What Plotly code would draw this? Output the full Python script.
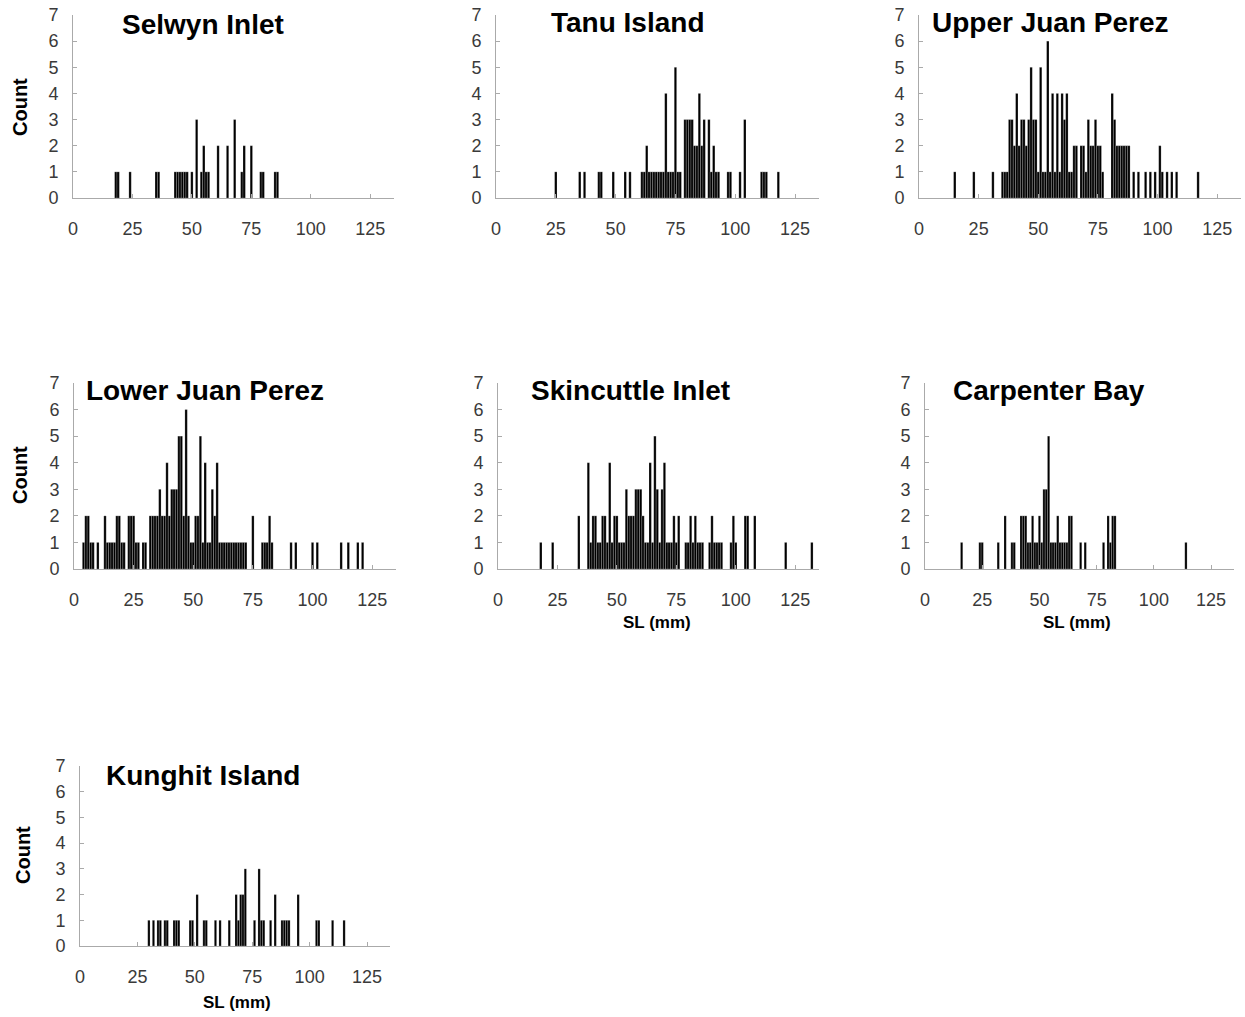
import plotly.graph_objects as go

# ---- data: SL bin (mm) and count per site ----
selwyn_bins = [18, 19, 24, 35, 36, 43, 44, 45, 46, 47, 48, 50, 52, 54, 55, 56, 57, 61, 65, 68, 71, 72, 75, 79, 80, 85, 86]
selwyn_counts = [1, 1, 1, 1, 1, 1, 1, 1, 1, 1, 1, 1, 3, 1, 2, 1, 1, 2, 2, 3, 1, 2, 2, 1, 1, 1, 1]

tanu_bins = [25, 35, 37, 43, 44, 49, 54, 56, 61, 62, 63, 64, 65, 66, 67, 68, 69, 70, 71, 72, 73, 74, 75, 76, 77,
             79, 80, 81, 82, 83, 84, 85, 86, 87, 89, 90, 91, 92, 93, 97, 98, 102, 104, 111, 112, 113, 118]
tanu_counts = [1, 1, 1, 1, 1, 1, 1, 1, 1, 1, 2, 1, 1, 1, 1, 1, 1, 1, 4, 1, 1, 1, 5, 1, 1,
               3, 3, 3, 3, 2, 2, 4, 2, 3, 3, 1, 2, 1, 1, 1, 1, 1, 3, 1, 1, 1, 1]

ujp_bins = [15, 23, 31, 35, 36, 37, 38, 39, 40, 41, 42, 43, 44, 45, 46, 47, 48, 49, 50, 51, 52, 53, 54, 55, 56, 57,
            58, 59, 60, 61, 62, 63, 64, 65, 66, 68, 69, 70, 71, 72, 73, 74, 75, 76, 77, 81, 82, 83, 84, 85, 86,
            87, 88, 90, 92, 95, 97, 99, 101, 102, 104, 106, 108, 117]
ujp_counts = [1, 1, 1, 1, 1, 1, 3, 3, 2, 4, 2, 3, 3, 2, 3, 5, 3, 3, 1, 5, 1, 1, 6, 1, 4, 1,
              4, 1, 4, 3, 4, 1, 1, 2, 2, 2, 2, 1, 3, 2, 2, 3, 2, 2, 1, 4, 3, 2, 2, 2, 2,
              2, 2, 1, 1, 1, 1, 1, 2, 1, 1, 1, 1, 1]

ljp_bins = [4, 5, 6, 7, 8, 10, 13, 14, 15, 16, 17, 18, 19, 20, 21, 23, 24, 25, 26, 27, 29, 30, 32, 33, 34, 35,
            36, 37, 38, 39, 40, 41, 42, 43, 44, 45, 46, 47, 48, 49, 50, 51, 52, 53, 54, 55, 56, 57, 58, 59, 60,
            61, 62, 63, 64, 65, 66, 67, 68, 69, 70, 71, 72, 75, 79, 80, 81, 82, 83, 91, 93, 100, 102, 112, 115,
            119, 121]
ljp_counts = [1, 2, 2, 1, 1, 1, 2, 1, 1, 1, 1, 2, 2, 1, 1, 2, 2, 2, 1, 1, 1, 1, 2, 2, 2, 2,
              3, 2, 2, 4, 2, 3, 3, 3, 5, 5, 2, 6, 2, 1, 1, 2, 2, 5, 1, 4, 1, 1, 3, 2, 4,
              1, 1, 1, 1, 1, 1, 1, 1, 1, 1, 1, 1, 2, 1, 1, 1, 2, 1, 1, 1, 1, 1, 1, 1,
              1, 1]

skin_bins = [18, 23, 34, 38, 39, 40, 41, 42, 43, 44, 45, 46, 47, 48, 49, 50, 51, 52, 53, 54, 55, 56, 57, 58, 59,
             60, 61, 62, 63, 64, 65, 66, 67, 68, 69, 70, 71, 72, 73, 74, 75, 76, 79, 80, 81, 82, 83, 84, 85, 86,
             89, 90, 91, 92, 93, 94, 98, 99, 100, 104, 105, 108, 121, 132]
skin_counts = [1, 1, 2, 4, 1, 2, 2, 1, 1, 2, 2, 1, 4, 1, 2, 2, 1, 1, 1, 3, 2, 2, 2, 3, 3,
               3, 2, 1, 1, 4, 1, 5, 3, 1, 3, 4, 1, 1, 1, 2, 1, 2, 1, 1, 2, 1, 2, 1, 1, 1,
               1, 2, 1, 1, 1, 1, 1, 2, 1, 2, 2, 2, 1, 1]

carp_bins = [16, 24, 25, 32, 35, 38, 39, 42, 43, 44, 45, 46, 47, 48, 49, 50, 51, 52, 53, 54, 55, 56, 57, 58, 59,
             60, 61, 62, 63, 64, 68, 70, 78, 80, 81, 82, 83, 114]
carp_counts = [1, 1, 1, 1, 2, 1, 1, 2, 2, 2, 1, 1, 2, 1, 1, 2, 1, 3, 3, 5, 1, 1, 1, 2, 1,
               1, 1, 1, 2, 2, 1, 1, 1, 2, 1, 2, 2, 1]

kung_bins = [30, 32, 34, 35, 37, 38, 41, 42, 43, 48, 49, 51, 54, 55, 59, 61, 65, 68, 69, 70, 71, 72, 76, 78, 79,
             80, 83, 85, 88, 89, 90, 91, 95, 103, 104, 110, 115]
kung_counts = [1, 1, 1, 1, 1, 1, 1, 1, 1, 1, 1, 2, 1, 1, 1, 1, 1, 2, 1, 2, 2, 3, 1, 3, 1,
               1, 1, 2, 1, 1, 1, 1, 2, 1, 1, 1, 1]

site_names = ["Selwyn Inlet", "Tanu Island", "Upper Juan Perez", "Lower Juan Perez",
              "Skincuttle Inlet", "Carpenter Bay", "Kunghit Island"]
x_ticks = [0, 25, 50, 75, 100, 125]
y_ticks = [0, 1, 2, 3, 4, 5, 6, 7]

series = [(selwyn_bins, selwyn_counts), (tanu_bins, tanu_counts), (ujp_bins, ujp_counts),
          (ljp_bins, ljp_counts), (skin_bins, skin_counts), (carp_bins, carp_counts),
          (kung_bins, kung_counts)]

# ---- layout geometry (pixels) ----
W, H = 1245, 1017
# (x_left_px, x_right_px, y_top_px, y_bottom_px)
boxes = [
    (73, 394, 15, 198),
    (496, 819, 15, 198),
    (919, 1241, 15, 198),
    (74, 396, 383, 569),
    (498, 819, 383, 569),
    (925, 1234, 383, 569),
    (80, 390, 766, 946),
]
title_pos = [(203, 25), (628, 22), (1050, 22), (205, 390), (630, 390), (1049, 390), (203, 775)]
count_pos = [(20, 107), (20, 475), (23, 855)]
sl_pos = [(657, 622), (1077, 622), (237, 1002)]

FONT = "Liberation Sans, Arial, sans-serif"
fig = go.Figure()
layout = dict(width=W, height=H, margin=dict(l=0, r=0, t=0, b=0, autoexpand=False),
              paper_bgcolor="white", plot_bgcolor="white", showlegend=False,
              bargap=0, font=dict(family=FONT, color="#333333"))
annotations = []

for i, ((bins, counts), box) in enumerate(zip(series, boxes)):
    n = "" if i == 0 else str(i + 1)
    xl, xr, yt, yb = box
    fig.add_trace(go.Bar(x=bins, y=counts, width=1, xaxis="x" + n, yaxis="y" + n,
                         marker=dict(color="black", line=dict(color="white", width=0.2))))
    layout["xaxis" + n] = dict(domain=[xl / W, xr / W], range=[0, 135], anchor="y" + n,
                               tickvals=x_ticks, ticks="inside", ticklen=4, tickcolor="#aaaaaa",
                               showline=True, linecolor="#aaaaaa", linewidth=1, showgrid=False,
                               zeroline=False, tickfont=dict(size=18, color="#3a3a3a"),
                               ticklabelstandoff=14, fixedrange=True, automargin=False)
    layout["yaxis" + n] = dict(domain=[1 - yb / H, 1 - yt / H], range=[0, 7], anchor="x" + n,
                               tickvals=y_ticks, ticks="inside", ticklen=4, tickcolor="#aaaaaa",
                               showline=True, linecolor="#aaaaaa", linewidth=1, showgrid=False,
                               zeroline=False, tickfont=dict(size=18, color="#3a3a3a"),
                               ticklabelstandoff=10, fixedrange=True, automargin=False)
    tx, ty = title_pos[i]
    annotations.append(dict(text="<b>" + site_names[i] + "</b>", x=tx / W, y=1 - ty / H,
                            xref="paper", yref="paper", showarrow=False,
                            font=dict(size=28, color="black", family=FONT),
                            xanchor="center", yanchor="middle"))

for cx, cy in count_pos:
    annotations.append(dict(text="<b>Count</b>", x=cx / W, y=1 - cy / H, xref="paper", yref="paper",
                            showarrow=False, textangle=-90, font=dict(size=20, color="black", family=FONT),
                            xanchor="center", yanchor="middle"))
for cx, cy in sl_pos:
    annotations.append(dict(text="<b>SL (mm)</b>", x=cx / W, y=1 - cy / H, xref="paper", yref="paper",
                            showarrow=False, font=dict(size=17, color="black", family=FONT),
                            xanchor="center", yanchor="middle"))

layout["annotations"] = annotations
fig.update_layout(**layout)
fig.write_html("out.html", config={"displayModeBar": False, "staticPlot": True})

# remove the browser's default page margin so the figure sits at the window origin
with open("out.html", "r", encoding="utf-8") as f:
    html = f.read()
html = html.replace("<head>", "<head><style>html,body{margin:0;padding:0;overflow:hidden;}</style>", 1)
with open("out.html", "w", encoding="utf-8") as f:
    f.write(html)
